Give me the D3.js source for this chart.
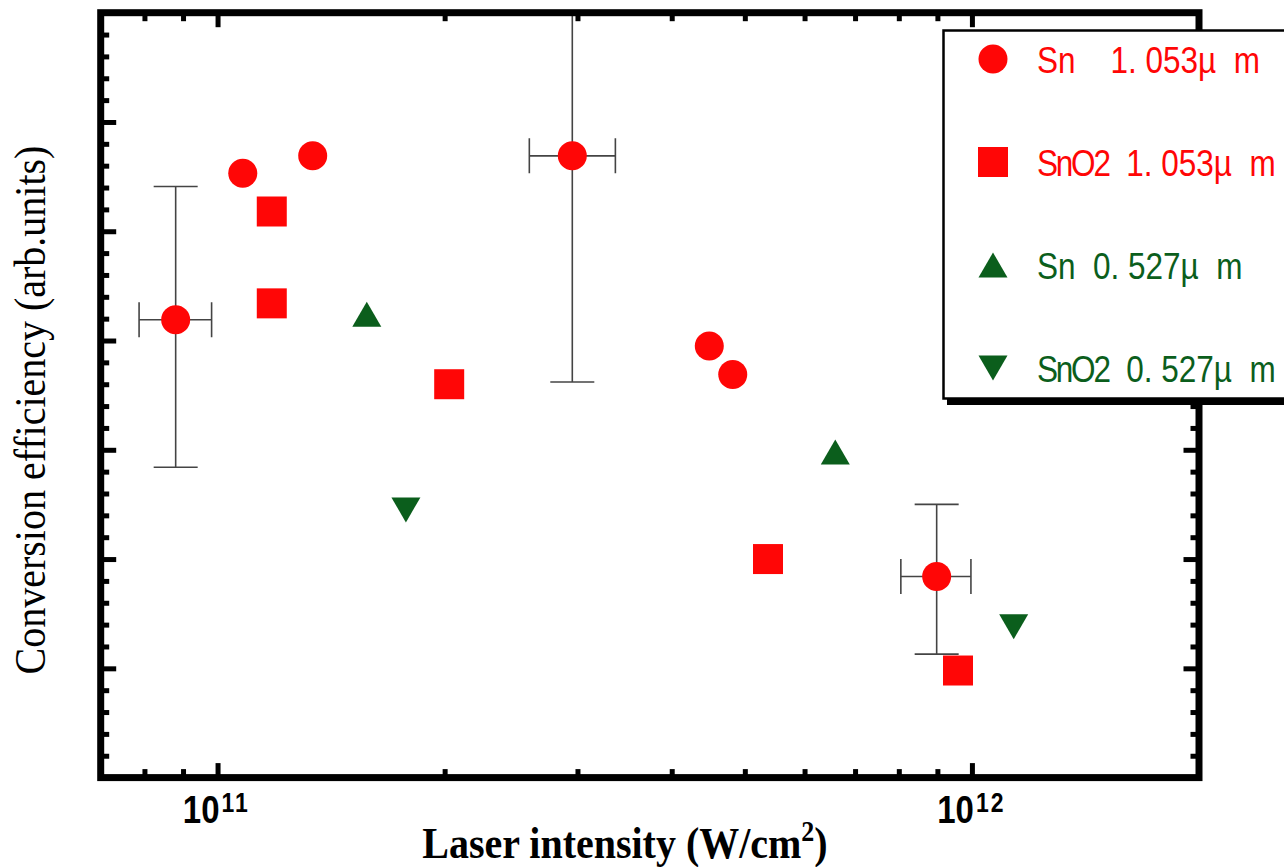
<!DOCTYPE html>
<html>
<head>
<meta charset="utf-8">
<script src="https://cdn.jsdelivr.net/npm/d3@7"></script>
<style>
body { margin: 0; background: #fff; }
text { white-space: pre; }
</style>
</head>
<body>
<div class="canvas"></div>
<script>
// Sn 1.053um (circles), some with error bars
const snX = [8.80e10, 1.08e11, 1.337e11, 2.953e11, 4.486e11, 4.819e11, 8.98e11];
const snY = [4.19, 5.53, 5.69, 5.69, 3.95, 3.69, 1.84];
const snXErr = [[7.87e10, 9.82e10], null, null, [2.59e11, 3.368e11], null, null, [8.05e11, 9.97e11]];
const snYErr = [[2.84, 5.41], null, null, [3.62, 7.75], null, null, [1.13, 2.50]];

// SnO2 1.053um (squares)
const sno2X = [1.18e11, 1.18e11, 2.028e11, 5.366e11, 9.584e11];
const sno2Y = [5.18, 4.34, 3.60, 2.00, 0.98];

// Sn 0.527um (up triangles)
const sn527X = [1.577e11, 6.59e11];
const sn527Y = [4.24, 2.98];

// SnO2 0.527um (down triangles)
const sno2527X = [1.777e11, 1.136e12];
const sno2527Y = [2.45, 1.38];

const xMajor = [1e11, 1e12];
const xMinor = [8e10, 9e10, 2e11, 3e11, 4e11, 5e11, 6e11, 7e11, 8e11, 9e11, 2e12];
const xTickLabels = [['10', '11'], ['10', '12']];
const yMajor = d3.range(0, 8);
const yMinor = d3.range(0, 36).map(i => i / 5).filter(v => v % 1 !== 0);

const legendLabels = ['Sn    1. 053\u00b5  m', 'SnO2  1. 053\u00b5  m', 'Sn  0. 527\u00b5  m', 'SnO2  0. 527\u00b5  m'];

const red = '#ff0606';
const green = '#0b5e1c';
const sans = "'Liberation Sans', Arial, sans-serif";
const serif = "'Liberation Serif', 'Times New Roman', serif";

const svg = d3.select('.canvas').append('svg')
    .attr('width', 1284)
    .attr('height', 867);

const pLeft = 100.7, pRight = 1199, pTop = 12.7, pBottom = 777.6;

const x = d3.scaleLog().domain([7e10, 2e12]).range([pLeft, pRight]);
const y = d3.scaleLinear().domain([0, 7]).range([pBottom, pTop]);

// marker shapes
const triUp = { draw(ctx) { ctx.moveTo(0, -12.5); ctx.lineTo(14.5, 12.5); ctx.lineTo(-14.5, 12.5); ctx.closePath(); } };
const triDown = { draw(ctx) { ctx.moveTo(0, 12.5); ctx.lineTo(14.5, -12.5); ctx.lineTo(-14.5, -12.5); ctx.closePath(); } };
const circle = d3.symbol().type(d3.symbolCircle).size(Math.PI * 14.5 * 14.5)();
const square = d3.symbol().type(d3.symbolSquare).size(30 * 30)();
const up = d3.symbol().type(triUp)();
const down = d3.symbol().type(triDown)();

svg.append('clipPath').attr('id', 'plot')
    .append('rect').attr('x', pLeft).attr('y', pTop).attr('width', pRight - pLeft).attr('height', pBottom - pTop);

const plot = svg.append('g').attr('clip-path', 'url(#plot)');

// error bars
const errs = plot.append('g').attr('stroke', '#444').attr('stroke-width', 1.6).attr('fill', 'none');
snX.forEach((v, i) => {
    if (snYErr[i]) {
        const cx = x(v), y0 = y(snYErr[i][0]), y1 = y(snYErr[i][1]);
        errs.append('line').attr('x1', cx).attr('x2', cx).attr('y1', y0).attr('y2', y1);
        errs.append('line').attr('x1', cx - 22).attr('x2', cx + 22).attr('y1', y0).attr('y2', y0);
        errs.append('line').attr('x1', cx - 22).attr('x2', cx + 22).attr('y1', y1).attr('y2', y1);
    }
    if (snXErr[i]) {
        const cy = y(snY[i]), x0 = x(snXErr[i][0]), x1 = x(snXErr[i][1]);
        errs.append('line').attr('x1', x0).attr('x2', x1).attr('y1', cy).attr('y2', cy);
        errs.append('line').attr('x1', x0).attr('x2', x0).attr('y1', cy - 17.5).attr('y2', cy + 17.5);
        errs.append('line').attr('x1', x1).attr('x2', x1).attr('y1', cy - 17.5).attr('y2', cy + 17.5);
    }
});

function drawSeries(xs, ys, shape, color) {
    plot.append('g').selectAll('path')
        .data(xs)
        .join('path')
        .attr('d', shape)
        .attr('fill', color)
        .attr('transform', (d, i) => `translate(${x(d)},${y(ys[i])})`);
}

drawSeries(snX, snY, circle, red);
drawSeries(sno2X, sno2Y, square, red);
drawSeries(sn527X, sn527Y, up, green);
drawSeries(sno2527X, sno2527Y, down, green);

// frame and inward ticks
function ticks(axis, tf) {
    const g = svg.append('g').attr('transform', tf).call(axis);
    g.select('.domain').remove();
    g.selectAll('.tick line').attr('stroke', '#000').attr('stroke-width', 5);
    return g;
}
ticks(d3.axisTop(x).tickValues(xMinor).tickSize(8.5).tickFormat(''), `translate(0,${pBottom})`);
ticks(d3.axisTop(x).tickValues(xMajor).tickSize(14.5).tickFormat(''), `translate(0,${pBottom})`);
ticks(d3.axisBottom(x).tickValues(xMinor).tickSize(8.5).tickFormat(''), `translate(0,${pTop})`);
ticks(d3.axisBottom(x).tickValues(xMajor).tickSize(14.5).tickFormat(''), `translate(0,${pTop})`);
ticks(d3.axisRight(y).tickValues(yMinor).tickSize(8.5).tickFormat(''), `translate(${pLeft},0)`);
ticks(d3.axisRight(y).tickValues(yMajor).tickSize(15.5).tickFormat(''), `translate(${pLeft},0)`);
ticks(d3.axisLeft(y).tickValues(yMinor).tickSize(8.5).tickFormat(''), `translate(${pRight},0)`);
ticks(d3.axisLeft(y).tickValues(yMajor).tickSize(15.5).tickFormat(''), `translate(${pRight},0)`);

svg.append('rect')
    .attr('x', pLeft).attr('y', pTop)
    .attr('width', pRight - pLeft).attr('height', pBottom - pTop)
    .attr('fill', 'none').attr('stroke', '#000').attr('stroke-width', 7);

// x tick labels 10^n
xMajor.forEach((v, i) => {
    const g = svg.append('g').attr('transform', `translate(${x(v) + 2},823) scale(1,1.2)`)
        .attr('font-family', sans).attr('font-weight', 'bold').attr('fill', '#000');
    g.append('text').attr('text-anchor', 'end').attr('font-size', 33).text(xTickLabels[i][0]);
    g.append('text').attr('x', 2).attr('y', -9).attr('font-size', 23).attr('letter-spacing', 2).text(xTickLabels[i][1]);
});

// axis titles
const xt = svg.append('g').attr('transform', 'translate(625,858) scale(1,1.13)')
    .append('text')
    .attr('text-anchor', 'middle')
    .attr('font-family', serif)
    .attr('font-weight', 'bold')
    .attr('font-size', 40);
xt.append('tspan').text('Laser intensity (W/cm');
xt.append('tspan').attr('font-size', 26).attr('dy', -15).text('2');
xt.append('tspan').attr('dy', 15).text(')');

svg.append('g').attr('transform', 'translate(45,410) rotate(-90) scale(1,1.13)')
    .append('text')
    .attr('text-anchor', 'middle')
    .attr('font-family', serif)
    .attr('font-size', 40)
    .text('Conversion efficiency (arb.units)');

// legend
const legend = svg.append('g');
legend.append('rect').attr('x', 947).attr('y', 36).attr('width', 400).attr('height', 369).attr('fill', '#000');
legend.append('rect').attr('x', 943.5).attr('y', 30.5).attr('width', 400).attr('height', 368)
    .attr('fill', '#fff').attr('stroke', '#000').attr('stroke-width', 2.5);

const legendShapes = [circle, square, up, down];
const legendColors = [red, red, green, green];
legendLabels.forEach((lab, i) => {
    const ry = 59 + i * 103;
    legend.append('path').attr('d', legendShapes[i]).attr('fill', legendColors[i])
        .attr('transform', `translate(993,${ry})`);
    const t = legend.append('g').attr('transform', `translate(1037,${ry + 13.5}) scale(1,1.16)`)
        .append('text')
        .attr('font-family', sans)
        .attr('font-size', 31.5)
        .attr('fill', legendColors[i]);
    const first = lab.split(' ')[0];
    t.append('tspan').attr('letter-spacing', first.length > 2 ? -2.2 : 0).text(first);
    t.append('tspan').text(lab.slice(first.length));
});
</script>
</body>
</html>
